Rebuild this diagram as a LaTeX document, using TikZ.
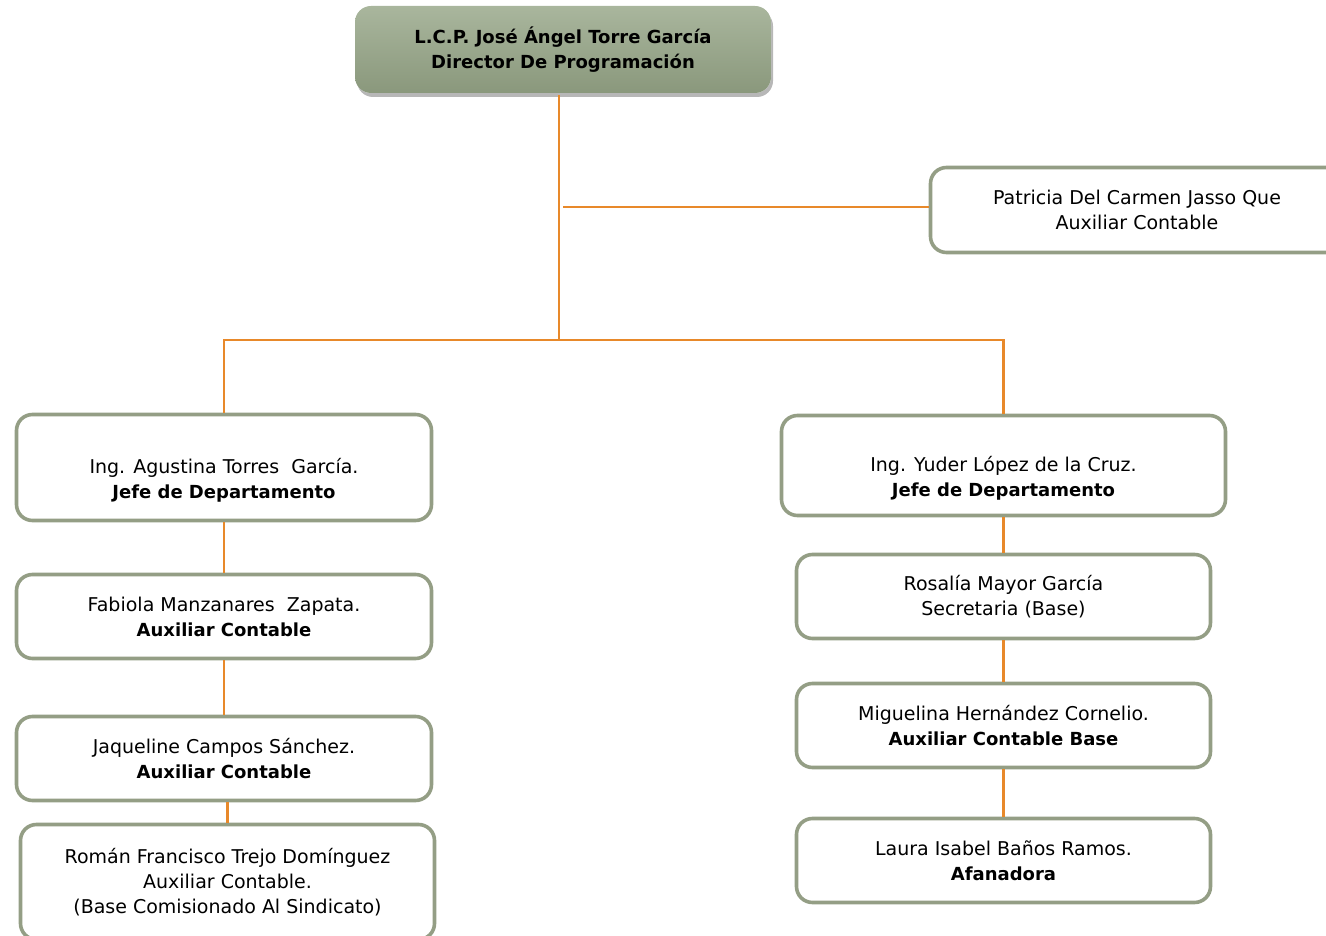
\documentclass[tikz,border=0pt]{standalone}
\usepackage{fontspec}
\setmainfont{DejaVu Sans}
\usetikzlibrary{shadows}
\definecolor{boxline}{HTML}{949E85}
\definecolor{linkorange}{HTML}{E8892A}
\definecolor{headtop}{HTML}{A9B69D}
\definecolor{headbot}{HTML}{8A987C}
\newcommand\bt[1]{{\fontsize{18}{25}\selectfont\bfseries #1}}
\tikzset{
	box/.style={draw=boxline, line width=3.6pt, rounded corners=16pt, fill=white, align=center, inner sep=0pt, minimum width=415, minimum height=84},
	headbox/.style={box, draw=none, top color=headtop, bottom color=headbot, font=\fontsize{18}{25}\selectfont\bfseries, drop shadow={shadow xshift=2pt, shadow yshift=-4pt, opacity=0.4, fill=black!70}},
	lowtext/.style={label={[align=center, yshift=-13pt]center:{#1}}},
	link/.style={draw=linkorange, line width=2.6pt}
}
\begin{document}
\begin{tikzpicture}[x=1pt,y=-1pt,font=\fontsize{19}{25}\selectfont]
	\useasboundingbox (0,0) rectangle (1326,936);
	\node[headbox, minimum width=416, minimum height=87] (head) at (563,49.5) {L.C.P. José Ángel Torre García\\Director De Programación};
	\node[box, minimum width=413, minimum height=85] (patricia) at (1137,210) {Patricia Del Carmen Jasso Que\\Auxiliar Contable};
	\node[box, minimum height=106, lowtext={Ing. Agustina Torres\ \ García.\\\bt{Jefe de Departamento}}] (agustina) at (224,467.5) {};
	\node[box] (fabiola) at (224,616.5) {Fabiola Manzanares\ \ Zapata.\\\bt{Auxiliar Contable}};
	\node[box] (jaqueline) at (224,758.5) {Jaqueline Campos Sánchez.\\\bt{Auxiliar Contable}};
	\node[box, minimum width=414, minimum height=115] (roman) at (227.5,882) {Román Francisco Trejo Domínguez\\Auxiliar Contable.\\(Base Comisionado Al Sindicato)};
	\node[box, minimum width=444, minimum height=100, lowtext={Ing. Yuder López de la Cruz.\\\bt{Jefe de Departamento}}] (yuder) at (1003.5,465.5) {};
	\node[box, minimum width=414] (rosalia) at (1003.5,596.5) {Rosalía Mayor García\\Secretaria (Base)};
	\node[box, minimum width=414] (miguelina) at (1003.5,725.5) {Miguelina Hernández Cornelio.\\\bt{Auxiliar Contable Base}};
	\node[box, minimum width=414] (laura) at (1003.5,860.5) {Laura Isabel Baños Ramos.\\\bt{Afanadora}};
	\coordinate (fork) at (559,340);
	\coordinate (tee) at (563,207);
	\draw[link] (head.south -| fork) -- (fork);
	\draw[link] (tee) -- (tee -| patricia.west);
	\draw[link] (agustina.north) |- (fork) -| (yuder.north);
	\draw[link] (agustina.south) -- (fabiola.north);
	\draw[link] (fabiola.south) -- (jaqueline.north);
	\draw[link] (jaqueline.south -| roman.north) -- (roman.north);
	\draw[link] (yuder.south -| rosalia.north) -- (rosalia.north);
	\draw[link] (rosalia.south) -- (miguelina.north);
	\draw[link] (miguelina.south) -- (laura.north);
\end{tikzpicture}
\end{document}
